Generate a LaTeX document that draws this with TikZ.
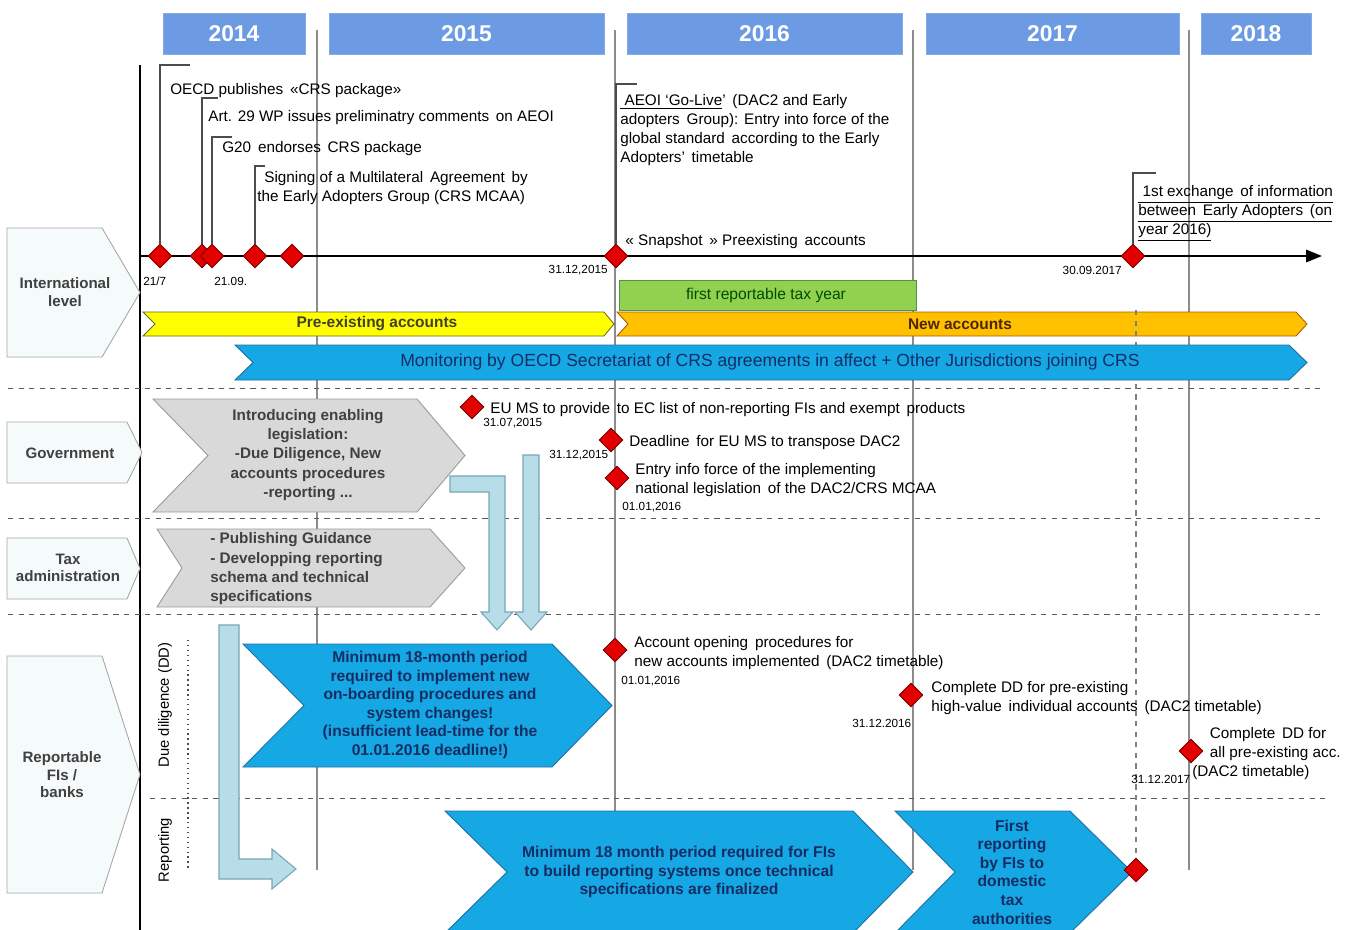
\documentclass[tikz,border=0pt]{standalone}
\usepackage{fontspec}
\setmainfont{Liberation Sans}
\usetikzlibrary{shapes.geometric,arrows.meta}

\definecolor{yearblue}{RGB}{108,155,228}
\definecolor{eventred}{RGB}{226,0,0}
\definecolor{eventdark}{RGB}{120,0,0}
\definecolor{cyanfill}{RGB}{22,168,228}
\definecolor{cyanline}{RGB}{30,110,160}
\definecolor{navytext}{RGB}{20,45,100}
\definecolor{palefill}{RGB}{245,250,250}
\definecolor{greyfill}{RGB}{217,217,217}
\definecolor{fatfill}{RGB}{183,222,232}
\definecolor{fatline}{RGB}{120,165,185}
\definecolor{greenfill}{RGB}{146,208,80}
\definecolor{yellowfill}{RGB}{255,255,0}
\definecolor{orangefill}{RGB}{255,192,0}

% chevron: [style]{x1}{y1}{x2}{y2}{notch}{tip}
\newcommand{\chevshape}[7][]{%
  \draw[#1] (#2,#3) -- ({#4-#7},#3) -- (#4,{(#3+#5)/2}) -- ({#4-#7},#5)
    -- (#2,#5) -- ({#2+#6},{(#3+#5)/2}) -- cycle;}
% lane tab: [style]{x1}{y1}{x2}{y2}{tip}
\newcommand{\lanetab}[6][]{%
  \draw[#1] (#2,#3) -- ({#4-#6},#3) -- (#4,{(#3+#5)/2}) -- ({#4-#6},#5)
    -- (#2,#5) -- cycle;}

\begin{document}
\begin{tikzpicture}[x=0.02cm, y=-0.02cm,
    yearbox/.style={fill=yearblue, draw=yearblue!85!white},
    yeartext/.style={text=white, inner sep=0pt, font=\fontsize{13}{13}\selectfont\bfseries},
    event/.style={diamond, fill=eventred, draw=eventdark, line width=0.5pt, inner sep=0pt, minimum size=0.48cm},
    note/.style={anchor=north west, align=left, inner sep=0pt, font=\fontsize{8.7}{10.8}\selectfont},
    datelbl/.style={inner sep=0pt, font=\fontsize{6.7}{7}\selectfont},
    leader/.style={draw=black!70, line width=0.6pt},
    yearline/.style={draw=black!45, line width=0.9pt},
    lanesep/.style={draw=black!65, dashed, line width=0.5pt},
    tabbox/.style={fill=palefill, draw=black!35, line width=0.5pt},
    tabtext/.style={align=center, inner sep=0pt, text=black!75, font=\fontsize{8.6}{10}\selectfont\bfseries},
    greychev/.style={fill=greyfill, draw=black!40, line width=0.5pt},
    greytext/.style={text=black!75, inner sep=0pt, font=\fontsize{8.7}{11}\selectfont\bfseries},
    bluechev/.style={fill=cyanfill, draw=cyanline, line width=0.5pt},
    bluetext/.style={text=navytext, align=center, inner sep=0pt, font=\fontsize{8.9}{10.6}\selectfont\bfseries},
    fatarrow/.style={fill=fatfill, draw=fatline, line width=0.6pt},
  ]
	\useasboundingbox (0,0) rectangle (1353,930);

	% Year headers
	\foreach \yr/\xa/\xb in {2014/163/305, 2015/329/604, 2016/627/902, 2017/926/1179, 2018/1201/1311} {
		\draw[yearbox] (\xa,13) rectangle (\xb,54);
		\node[yeartext] (y\yr) at ({(\xa+\xb)/2},34) {\yr};
	}

	% Grid lines
	\foreach \xx/\yb in {317/870, 615/930, 913/870, 1189/870}
		\draw[yearline] (\xx,30) -- (\xx,\yb);
	\draw[black, line width=1.1pt] (140,65) -- (140,930);
	\draw[lanesep] (8,388) -- (1320,388);
	\draw[lanesep] (8,518) -- (1320,518);
	\draw[lanesep] (8,614) -- (1320,614);
	\draw[lanesep] (150,798) -- (1325,798);
	\draw[black!70, dotted, line width=0.8pt] (188,640) -- (188,870);

	% Lane labels
	\lanetab[tabbox]{7}{228}{140}{357}{38}
	\node[tabtext] (intl) at (65,292) {International\\level};
	\lanetab[tabbox]{7}{422}{142}{483}{15}
	\node[tabtext] (govt) at (70,453) {Government};
	\lanetab[tabbox]{7}{538}{140}{599}{13}
	\node[tabtext] (taxadm) at (68,568) {Tax\\administration};
	\lanetab[tabbox]{7}{656}{140}{893}{38}
	\node[tabtext] (banks) at (62,775) {Reportable\\FIs /\\banks};
	\node[rotate=90, inner sep=0pt, font=\fontsize{8.4}{9}\selectfont] (ddlbl) at (165,705) {Due diligence (DD)};
	\node[rotate=90, inner sep=0pt, font=\fontsize{8.4}{9}\selectfont] (replbl) at (165,850) {Reporting};

	% Timeline
	\coordinate (t0) at (140,256);
	\coordinate (t1) at (1322,256);
	\draw[black, line width=1pt, -{Triangle[length=9pt,width=7pt]}] (t0) -- (t1);

	% Bands
	\chevshape[fill=yellowfill, draw=olive!70!black, line width=0.5pt]{143}{312}{614}{336}{12}{10}
	\node[inner sep=0pt, text=black!70!olive, font=\fontsize{8.8}{9}\selectfont\bfseries] (preex) at (377,324) {Pre-existing accounts};
	\chevshape[fill=orangefill, draw=orange!70!black, line width=0.5pt]{617}{312}{1307}{336}{11}{11}
	\node[inner sep=0pt, text=black!70!orange, font=\fontsize{8.8}{9}\selectfont\bfseries] (newacc) at (960,324) {New accounts};
	\draw[fill=greenfill, draw=green!40!black!70, line width=0.5pt] (619,280) rectangle (916,310);
	\node[inner sep=0pt, text=black!70!green, font=\fontsize{8.9}{9}\selectfont] (taxyear) at (766,295) {first reportable tax year};
	\draw[black!50, dashed, line width=0.7pt] (1136,310) -- (1136,858);
	\chevshape[bluechev]{235}{345}{1307}{380}{18}{18}
	\node[inner sep=0pt, text=navytext, font=\fontsize{10}{11}\selectfont] (monitor) at (770,362) {Monitoring by OECD Secretariat of CRS agreements in affect + Other Jurisdictions joining CRS};

	% Government and tax administration
	\chevshape[greychev]{153}{399}{465}{512}{55}{48}
	\node[greytext, align=center] (legis) at (308,455) {Introducing enabling\\legislation:\\-Due Diligence, New\\accounts procedures\\-reporting ...};
	\chevshape[greychev]{157}{529}{465}{607}{25}{35}
	\node[greytext, align=left, anchor=west] (guid) at (210,569) {- Publishing Guidance\\- Developping reporting\\schema and technical\\specifications};

	% Fat arrows
	\draw[fatarrow] (450,476) -- (505,476) -- (505,612) -- (513,612) -- (497,630) -- (481,612)
		-- (489,612) -- (489,492) -- (450,492) -- cycle;
	\draw[fatarrow] (523,455) -- (539,455) -- (539,612) -- (547,612) -- (531,630) -- (515,612)
		-- (523,612) -- cycle;
	\draw[fatarrow] (219,625) -- (239,625) -- (239,859) -- (272,859) -- (272,849) -- (296,869)
		-- (272,889) -- (272,879) -- (219,879) -- cycle;

	% Reportable FIs
	\chevshape[bluechev]{243}{644}{612}{767}{61}{60}
	\node[bluetext] (onboard) at (430,705) {Minimum 18-month period\\required to implement new\\on-boarding procedures and\\system changes!\\(insufficient lead-time for the\\01.01.2016 deadline!)};
	\chevshape[bluechev]{445}{811}{913}{933}{62}{60}
	\node[bluetext] (build) at (679,872) {Minimum 18 month period required for FIs\\to build reporting systems once technical\\specifications are finalized};
	\chevshape[bluechev]{895}{811}{1132}{933}{60}{62}
	\node[bluetext] (first) at (1012,872) {First\\reporting\\by FIs to\\domestic\\tax\\authorities};

	% Events
	\node[event] (e1) at (160,256) {};
	\node[event] (e2) at (202,256) {};
	\node[event] (e3) at (212,256) {};
	\node[event] (e4) at (255,256) {};
	\node[event] (e5) at (292,256) {};
	\node[event] (e6) at (616,256) {};
	\node[event] (e7) at (1133,256) {};
	\node[event] (e8) at (472,407) {};
	\node[event] (e9) at (611,440) {};
	\node[event] (e10) at (617,478) {};
	\node[event] (e11) at (615,650) {};
	\node[event] (e12) at (911,695) {};
	\node[event] (e13) at (1191,751) {};
	\node[event] (e14) at (1136,870) {};

	% Event notes
	\node[note] (n1) at (170,83) {OECD publishes \,«CRS package»};
	\node[note] (n2) at (208,110) {Art. 29 WP issues preliminatry comments \,on AEOI};
	\node[note] (n3) at (222,141) {G20 \,endorses \,CRS package};
	\node[note] (n4) at (257,171) {\hspace{4pt}Signing of a Multilateral \,Agreement \,by\\the Early Adopters Group (CRS MCAA)};
	\node[note] (n5) at (620,94) {\underline{\ AEOI ‘Go-Live}’ \,(DAC2 and Early\\adopters \,Group): Entry into force of the\\global standard \,according to the Early\\Adopters’ \,timetable};
	\node[note] (n6) at (625,234) {« Snapshot \,» Preexisting \,accounts};
	\node[note] (n7) at (1138,185) {\underline{\ 1st exchange \,of information}\\\underline{between \,Early Adopters \,(on}\\\underline{year 2016)}};
	\node[note] (n8) at (490,402) {EU MS to provide \,to EC list of non-reporting FIs and exempt \,products};
	\node[note] (n9) at (629,435) {Deadline \,for EU MS to transpose DAC2};
	\node[note] (n10) at (635,463) {Entry info force of the implementing\\national legislation \,of the DAC2/CRS MCAA};
	\node[note] (n11) at (634,636) {Account opening \,procedures for\\new accounts implemented \,(DAC2 timetable)};
	\node[note] (n12) at (931,681) {Complete DD for pre-existing\\high-value \,individual accounts \,(DAC2 timetable)};
	\node[note] (n13) at (1192,727) {\hspace{10pt}Complete \,DD for\\\hspace{10pt}all pre-existing acc.\\(DAC2 timetable)};

	% Leaders
	\coordinate (k1) at (190,65);
	\coordinate (k2) at (218,98);
	\coordinate (k3) at (232,137);
	\coordinate (k4) at (265,166);
	\coordinate (k5) at (637,84);
	\coordinate (k6) at (1156,173);
	\draw[leader] (e1.north) |- (k1);
	\draw[leader] (e2.north) |- (k2);
	\draw[leader] (e3.north) |- (k3);
	\draw[leader] (e4.north) |- (k4);
	\draw[leader] (e6.north) |- (k5);
	\draw[leader] (e7.north) |- (k6);

	% Dates
	\node[datelbl, anchor=west] (dt1) at (143,281) {21/7};
	\node[datelbl, anchor=west] (dt2) at (214,281) {21.09.};
	\node[datelbl, anchor=east] (dt3) at (608,270) {31.12,2015};
	\node[datelbl, anchor=east] (dt4) at (1122,270) {30.09.2017};
	\node[datelbl, anchor=west] (dt5) at (483,423) {31.07,2015};
	\node[datelbl, anchor=west] (dt6) at (549,455) {31.12,2015};
	\node[datelbl, anchor=west] (dt7) at (622,507) {01.01,2016};
	\node[datelbl, anchor=west] (dt8) at (621,681) {01.01,2016};
	\node[datelbl, anchor=west] (dt9) at (852,723) {31.12.2016};
	\node[datelbl, anchor=west] (dt10) at (1131,779) {31.12.2017};
\end{tikzpicture}
\end{document}
